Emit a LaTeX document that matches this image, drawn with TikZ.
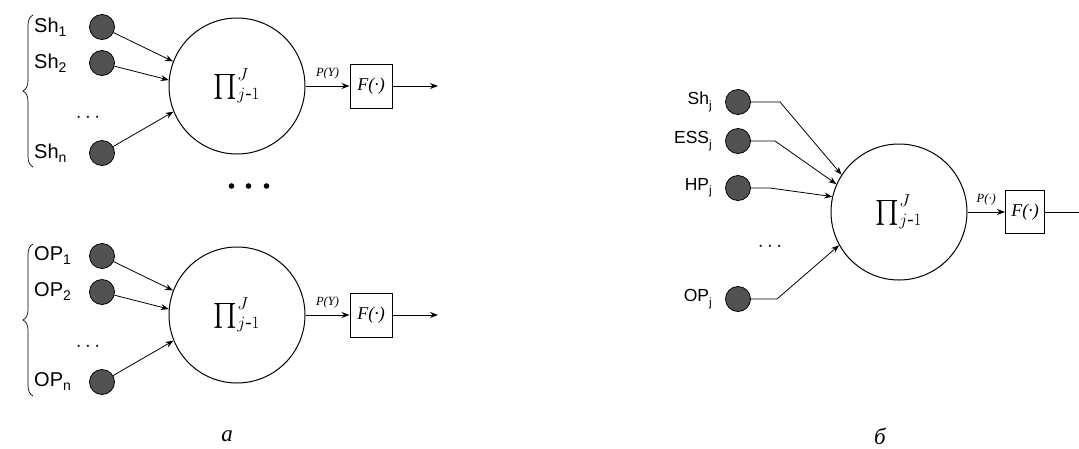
\documentclass[tikz,border=0pt]{standalone}
\usepackage{exscale}
\usepackage{fontspec}
\setmainfont{Liberation Serif}
\setsansfont{Liberation Sans}
\usetikzlibrary{arrows.meta,decorations.pathreplacing}
\newcommand\lbl[2]{#1\raisebox{-0.2em}{\fontsize{14}{14}\selectfont #2}}
\newcommand\lblj[2]{#1\raisebox{-0.25em}{\fontsize{12}{12}\selectfont #2}}
\newcommand\bigprod{$\prod_{j\mbox{\fontsize{19}{19}\selectfont -}1}^{J}$}
\tikzset{
  dotnode/.style={circle,draw=black,fill=black!68,line width=0.8pt,minimum size=25pt,inner sep=0pt},
  lab/.style={font=\sffamily\fontsize{20}{20}\selectfont,inner sep=0pt},
  labj/.style={font=\sffamily\fontsize{17.5}{17.5}\selectfont,inner sep=0pt},
  bigc/.style={circle,draw=black,line width=1pt,minimum size=136pt,inner sep=0pt,font=\fontsize{27}{27}\selectfont},
  fbox/.style={draw=black,line width=1pt,minimum width=42pt,minimum height=44pt,inner sep=0pt,font=\itshape\fontsize{18}{18}\selectfont},
  arr/.style={-{Stealth[length=8pt,width=6pt]},line width=0.8pt},
  ln/.style={line width=0.8pt},
  plab/.style={font=\itshape\fontsize{12.5}{12.5}\selectfont,inner sep=0pt},
  capt/.style={font=\itshape\fontsize{23}{23}\selectfont,inner sep=0pt},
  br/.style={decorate,decoration={brace,amplitude=10pt,aspect=0.5},line width=0.7pt},
  sdots/.style={font=\fontsize{21}{21}\selectfont,inner sep=0pt}
}
\begin{document}
\begin{tikzpicture}[x=1pt,y=-1pt]
\useasboundingbox (0,0) rectangle (1079,448);
% ---------- panel a ----------
\foreach \n/\y/\t/\s in {a1/27/Sh/1,a2/63/Sh/2,an/153/Sh/n,b1/256/OP/1,b2/292/OP/2,bn/382/OP/n}{
  \node[dotnode] (d\n) at (102,\y) {};
  \node[lab,anchor=west] (l\n) at (34,\y) {\lbl{\t}{\s}};
}
\node[sdots] (dotsA) at (88,118) {$\cdots$};
\node[sdots] (dotsB) at (88,347) {$\cdots$};
\coordinate (brAt) at (33,15);
\coordinate (brAb) at (33,167);
\draw[br] (brAb) -- (brAt);
\coordinate (brBt) at (33,244);
\coordinate (brBb) at (33,396);
\draw[br] (brBb) -- (brBt);

\node[bigc] (CA) at (237,86) {\bigprod};
\node[bigc] (CB) at (237,315) {\bigprod};
\node[fbox] (FA) at (371,86) {F(·)};
\node[fbox] (FB) at (371,315) {F(·)};
\coordinate (oA) at (438,86);
\coordinate (oB) at (438,315);

\draw[arr] (da1) -- (CA.159);
\draw[arr] (da2) -- (CA.175);
\draw[arr] (dan) -- (CA.202);
\draw[arr] (db1) -- (CB.159);
\draw[arr] (db2) -- (CB.175);
\draw[arr] (dbn) -- (CB.202);
\draw[arr] (CA) -- node[plab,above=6pt] (pA) {P(Y)} (FA);
\draw[arr] (CB) -- node[plab,above=6pt] (pB) {P(Y)} (FB);
\draw[arr] (FA) -- (oA);
\draw[arr] (FB) -- (oB);

\node (midots) at (249,186) {\tikz[x=1pt,y=1pt]{\fill (0,0) circle (2.8pt); \fill (17,0) circle (2.8pt); \fill (35,0) circle (2.8pt);}};

% ---------- panel b ----------
\foreach \n/\y/\t in {c1/102/Sh,c2/141/ESS,c3/188/HP,c4/299/OP}{
  \node[dotnode] (d\n) at (738,\y) {};
  \node[labj,anchor=east] (l\n) at (712,\y) {\lblj{\t}{j}};
}
\node[sdots] (dotsC) at (770,247) {$\cdots$};
\node[bigc] (CC) at (899,212) {\bigprod};
\node[fbox,minimum width=39pt,minimum height=43pt] (FC) at (1025,212) {F(·)};
\coordinate (oC) at (1079,212);
\coordinate (k1) at (780,102);
\coordinate (k2) at (775,141);
\coordinate (k3) at (770,188);
\coordinate (k4) at (777,299);
\draw[arr] (dc1) -- (k1) -- (CC.147);
\draw[arr] (dc2) -- (k2) -- (CC.156);
\draw[arr] (dc3) -- (k3) -- (CC.167);
\draw[arr] (dc4) -- (k4) -- (CC.209);
\draw[arr] (CC) -- node[plab,above=6pt] (pC) {P(·)} (FC);
\draw[ln] (FC) -- (oC);

\node[capt] (capA) at (227,436) {a};
\node[capt] (capB) at (880,436) {б};
\end{tikzpicture}
\end{document}
